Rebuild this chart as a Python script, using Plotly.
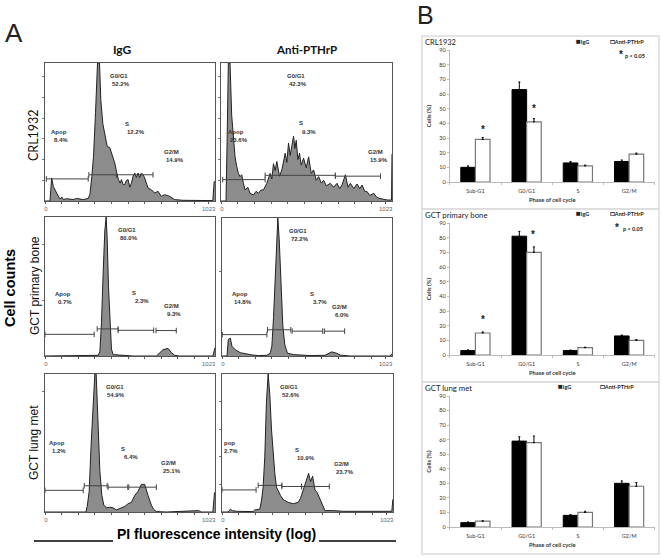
import plotly.graph_objects as go

W = 662
H = 558

# histogram data: channel and height (% of panel height)
crl_igg_ch = [0, 30, 40, 50, 70, 90, 102, 110, 130, 170, 190, 230, 260, 270, 282, 292, 304, 316, 328, 336, 348, 360, 374, 390, 406, 420, 432, 442, 452, 460, 470, 480, 490, 500, 510, 520, 530, 540, 550, 560, 570, 580, 590, 600, 620, 640, 660, 680, 700, 720, 750, 780, 830, 890, 970, 1010, 1018, 1023]
crl_igg_h = [0, 0, 16.7, 10.6, 5.8, 1.5, 2.9, 1, 1.7, 1, 1.9, 1, 1.9, 4.6, 17.9, 32.4, 64, 100, 100, 73, 56, 47, 39.6, 38.6, 32.6, 27.5, 20.3, 15.5, 13, 15.5, 12, 11.8, 15, 15.5, 10, 13, 18, 20.3, 17, 20.3, 17, 20.3, 19, 16.7, 9.4, 8.2, 5.8, 7, 3.4, 4.6, 3.4, 1, 0.5, 0.5, 0.5, 0.3, 14, 14]
pth_crl_ch = [0, 30, 36, 44, 54, 64, 72, 84, 94, 104, 114, 124, 134, 144, 160, 174, 194, 210, 224, 240, 254, 274, 294, 304, 314, 324, 334, 350, 364, 384, 394, 404, 414, 424, 434, 442, 450, 460, 470, 480, 494, 510, 524, 540, 554, 570, 584, 600, 614, 630, 654, 674, 694, 710, 724, 744, 760, 774, 794, 814, 830, 844, 860, 874, 890, 914, 930, 944, 994, 1020, 1023]
pth_crl_h = [0, 0, 40, 100, 100, 62, 50, 32, 25, 20, 17.7, 19, 12.8, 8, 10, 5.6, 4.4, 7, 5.6, 8, 8, 12.8, 20, 16, 27, 22, 28.6, 18, 22.5, 34.6, 28, 42, 33, 40, 47, 38, 44, 30, 34.6, 26, 31, 24, 32, 20, 22.5, 15, 17.7, 13, 15, 11, 12.8, 10, 12.8, 9, 11.6, 19, 10, 12.8, 9, 12.3, 9, 11.6, 7, 6.8, 4, 5.6, 3, 2, 0.7, 0.7, 34]
gct_igg_ch = [0, 320, 330, 340, 350, 360, 368, 374, 382, 390, 400, 410, 530, 670, 686, 710, 740, 760, 780, 810, 1010, 1022, 1023]
gct_igg_h = [0, 0.5, 3, 24, 60, 90, 100, 85, 50, 24, 5, 1, 0, 0, 2, 4.5, 5.5, 2.5, 0.5, 0, 0, 6, 6]
pth_gct_ch = [0, 30, 38, 50, 60, 80, 110, 140, 180, 220, 270, 290, 300, 310, 320, 330, 336, 344, 354, 366, 378, 394, 430, 470, 530, 620, 640, 660, 690, 714, 770, 1010, 1023]
pth_gct_h = [0, 0, 12, 13, 7, 4.5, 2.4, 1.5, 0.8, 0.3, 0.5, 2, 7, 28, 60, 90, 100, 85, 50, 22, 8, 2, 1, 0.8, 0.3, 0.5, 2, 3, 2, 0.6, 0, 0, 1.5]
lung_igg_ch = [0, 246, 254, 266, 278, 290, 300, 308, 318, 330, 342, 354, 370, 390, 410, 430, 450, 480, 500, 520, 540, 560, 580, 600, 620, 640, 654, 670, 730, 850, 924, 940, 1010, 1020, 1023]
lung_igg_h = [0, 0, 4, 15, 50, 80, 100, 100, 65, 30, 12, 5, 3, 3.5, 3, 1.5, 2.5, 4, 6, 7, 12, 15, 20, 20, 12, 5, 2, 0.3, 0, 0.3, 1, 0, 0, 14, 14]
pth_lung_ch = [0, 36, 50, 62, 86, 186, 196, 226, 236, 246, 256, 266, 276, 286, 296, 306, 316, 326, 336, 350, 366, 396, 426, 456, 470, 486, 502, 518, 530, 542, 556, 570, 590, 602, 616, 666, 726, 806, 926, 1016, 1022, 1023]
pth_lung_h = [0, 0, 2, 1, 0.5, 0.3, 1.5, 2, 8, 18, 40, 80, 100, 85, 60, 40, 28, 18, 15, 12, 9, 7, 6, 7, 10, 17, 22, 28, 22, 26, 16, 14, 8, 4, 1, 1, 0.5, 0.5, 0.3, 0.5, 9, 9]

# gate brackets: start channel, end channel, height
crl_igg_gates = [(8, 260, 16), (264, 430, 19), (430, 650, 19)]
pth_crl_gates = [(10, 264, 15.5), (264, 684, 18.6), (684, 954, 18)]
gct_igg_gates = [(0, 296, 15.6), (314, 440, 19.5), (440, 654, 18.5), (668, 790, 18.3)]
pth_gct_gates = [(2, 270, 15.5), (274, 414, 19), (422, 606, 18), (616, 738, 18)]
lung_igg_gates = [(0, 230, 15.7), (236, 374, 19), (380, 498, 18), (504, 670, 18)]
pth_lung_gates = [(0, 204, 16), (216, 358, 19.3), (358, 476, 18.5), (476, 642, 18.5)]

gate_names = ["Apop", "G0/G1", "S", "G2/M"]
crl_igg_pct = ["8.4%", "52.2%", "12.2%", "14.9%"]
pth_crl_pct = ["23.6%", "42.3%", "9.3%", "15.9%"]
gct_igg_pct = ["0.7%", "80.0%", "2.3%", "9.3%"]
pth_gct_pct = ["14.8%", "72.2%", "3.7%", "6.0%"]
lung_igg_pct = ["1.2%", "54.9%", "6.4%", "25.1%"]
pth_lung_pct = ["2.7%", "52.6%", "10.9%", "23.7%"]

# bar data
phases = ["Sub-G1", "G0/G1", "S", "G2/M"]
crl_igg = [10, 63, 13, 14]
crl_igg_err = [1, 5.2, 1, 1]
crl_anti = [29, 41, 11, 19]
crl_anti_err = [1.4, 2.2, 0.5, 0.7]
bone_igg = [3, 81, 3, 13]
bone_igg_err = [0.5, 3.3, 0.4, 0.6]
bone_anti = [15, 70, 5, 10]
bone_anti_err = [0.7, 3.7, 0.3, 0.5]
lung_igg = [3, 59, 8, 30]
lung_igg_err = [0.5, 3, 0.5, 1.7]
lung_anti = [4, 58, 10, 28]
lung_anti_err = [0.2, 4.5, 0.8, 2.5]

fig = go.Figure()
annots = []
shapes = []
axes = {}


def px(x):
    return x / W


def py(y):
    return 1 - y / H


def text(s, x, y, size, font="Liberation Sans", bold=False, color="#222", anchor="center", angle=0):
    if bold:
        s = "<b>" + s + "</b>"
    annots.append(dict(text=s, x=px(x), y=py(y), xref="paper", yref="paper", showarrow=False,
                       xanchor=anchor, yanchor="middle", textangle=angle, borderpad=0,
                       font=dict(family=font, size=size, color=color)))


def hist_panel(n, box, ch, h, gates, pcts, label_pos, yticks, names=gate_names):
    ax = "" if n == 1 else str(n)
    x0, y0, x1, y1 = box
    # the 1023 label sits inside the right corner, so its tick is placed a bit before the end
    axes["xaxis" + ax] = dict(domain=[px(x0), px(x1)], range=[0, 1023], anchor="y" + ax, automargin=False,
                              tickvals=[5, 100, 200, 300, 400, 500, 600, 700, 800, 900, 985],
                              ticktext=["0", "", "", "", "", "", "", "", "", "", "1023"],
                              ticks="outside", ticklen=2, tickcolor="#555", showgrid=False, zeroline=False,
                              showline=True, linecolor="#555", linewidth=1, mirror=True,
                              tickfont=dict(family="Liberation Sans", size=6, color="#666"))
    axes["yaxis" + ax] = dict(domain=[py(y1), py(y0)], range=[0, 100], anchor="x" + ax, automargin=False,
                              tickvals=yticks, showticklabels=False, ticks="outside", ticklen=2,
                              tickcolor="#777", showgrid=False, zeroline=False,
                              showline=True, linecolor="#555", linewidth=1, mirror=True)
    fig.add_trace(go.Scatter(x=ch, y=h, mode="lines", fill="tozeroy", fillcolor="#8c8c8c",
                             line=dict(color="#222", width=1), xaxis="x" + ax, yaxis="y" + ax,
                             showlegend=False, hoverinfo="skip"))
    gx = []
    gy = []
    for a, b, v in gates:
        gx += [a, b, None]
        gy += [v, v, None]
    fig.add_trace(go.Scatter(x=gx, y=gy, mode="lines+markers", line=dict(color="#444", width=1),
                             marker=dict(symbol="line-ns", size=4, line=dict(color="#444", width=1)),
                             xaxis="x" + ax, yaxis="y" + ax, showlegend=False, hoverinfo="skip",
                             cliponaxis=False))
    for name, pct, pos in zip(names, pcts, label_pos):
        text(name, pos[0], pos[1], 6, bold=True, color="#333", anchor="left")
        text(pct, pos[2], pos[3], 6, bold=True, color="#333", anchor="left")


hist_panel(1, (45, 63, 215, 201), crl_igg_ch, crl_igg_h, crl_igg_gates, crl_igg_pct,
           [(50, 132, 53, 140), (109, 76, 111, 84), (124, 124, 126, 132), (163, 152, 165, 160)],
           [15, 30, 45, 60, 75, 90])
hist_panel(2, (221, 63, 392, 201), pth_crl_ch, pth_crl_h, pth_crl_gates, pth_crl_pct,
           [(227, 132, 229, 140), (286, 76, 288, 84), (298, 123, 301, 132), (367, 152, 369, 160)],
           [15, 30, 45, 60, 75, 90])
hist_panel(3, (45, 217, 215, 356), gct_igg_ch, gct_igg_h, gct_igg_gates, gct_igg_pct,
           [(54, 294, 57, 302), (117, 230, 119, 238), (131, 293, 134, 301), (163, 306, 166, 314)],
           [40, 80])
hist_panel(4, (222, 218, 392, 356), pth_gct_ch, pth_gct_h, pth_gct_gates, pth_gct_pct,
           [(231, 294, 233, 302), (288, 231, 290, 239), (309, 294, 312, 302), (331, 307, 334, 315)],
           [61])
hist_panel(5, (45, 374, 215, 512), lung_igg_ch, lung_igg_h, lung_igg_gates, lung_igg_pct,
           [(48, 443, 51, 451), (105, 387, 106, 395), (120, 449, 123, 457), (160, 463, 162, 471)],
           [87])
hist_panel(6, (222, 374, 393, 512), pth_lung_ch, pth_lung_h, pth_lung_gates, pth_lung_pct,
           [(223, 443, 223, 451), (279, 387, 281, 395), (294, 450, 296, 458), (333, 464, 335, 472)],
           [20, 40, 60, 80], names=["pop", "G0/G1", "S", "G2/M"])


def bar_panel(n, y0, y1, igg, igg_err, anti, anti_err):
    ax = str(n)
    axes["xaxis" + ax] = dict(domain=[px(449.8), px(654.7)], anchor="y" + ax, type="category", automargin=False,
                              categoryorder="array", categoryarray=phases, tickson="boundaries",
                              ticks="outside", ticklen=2, tickcolor="#bbb", showgrid=False, zeroline=False,
                              showline=True, linecolor="#bbb", linewidth=1, ticklabelstandoff=3,
                              tickfont=dict(family="Lato", size=5.5, color="#333"),
                              title=dict(text="<b>Phase of cell cycle</b>", standoff=5,
                                         font=dict(family="Lato", size=5.8, color="#333")))
    axes["yaxis" + ax] = dict(domain=[py(y0), py(y1)], range=[0, 90], anchor="x" + ax, dtick=10, automargin=False,
                              ticks="outside", ticklen=2, tickcolor="#bbb", showgrid=False, zeroline=False,
                              showline=True, linecolor="#bbb", linewidth=1,
                              tickfont=dict(family="Lato", size=5.5, color="#333"),
                              title=dict(text="<b>Cells (%)</b>", standoff=7,
                                         font=dict(family="Lato", size=6, color="#333")))
    fig.add_trace(go.Bar(x=phases, y=igg, name="IgG", marker=dict(color="black", line=dict(color="black", width=1)),
                         error_y=dict(type="data", symmetric=False, array=igg_err, arrayminus=[0, 0, 0, 0],
                                      color="black", thickness=1, width=1),
                         xaxis="x" + ax, yaxis="y" + ax, showlegend=False))
    fig.add_trace(go.Bar(x=phases, y=anti, name="Anti-PTHrP",
                         marker=dict(color="white", line=dict(color="#777", width=1.2)),
                         error_y=dict(type="data", symmetric=False, array=anti_err, arrayminus=[0, 0, 0, 0],
                                      color="black", thickness=1, width=1),
                         xaxis="x" + ax, yaxis="y" + ax, showlegend=False))


bar_panel(7, 182, 50, crl_igg, crl_igg_err, crl_anti, crl_anti_err)
bar_panel(8, 355, 223, bone_igg, bone_igg_err, bone_anti, bone_anti_err)
bar_panel(9, 527, 396, lung_igg, lung_igg_err, lung_anti, lung_anti_err)


def star(ax, x, y):
    annots.append(dict(text="<b>*</b>", x=x, y=y, xref="x" + ax, yref="y" + ax, showarrow=False,
                       font=dict(family="Liberation Sans", size=10, color="#222")))


star("7", 0.14, 36)
star("7", 1.14, 50)
star("8", 0.15, 24)
star("8", 1.13, 82)

# big labels
text("A", 14, 33, 26)
text("B", 425, 14.5, 25)
text("IgG", 122, 49, 12, font="Lato", bold=True, color="#111")
text("Anti-PTHrP", 306, 49, 11.5, font="Lato", bold=True, color="#111")
text("CRL1932", 33, 135, 12.5, font="Lato", angle=-90, color="#111")
text("GCT primary bone", 35, 286, 12, angle=-90, color="#111")
text("GCT lung met", 34, 443, 12, angle=-90, color="#111")
text("Cell counts", 10, 288, 14.5, bold=True, angle=-90, color="#000")
text("PI fluorescence intensity (log)", 216, 534, 14, bold=True, color="#000")

for xa, xb in [(34, 113), (319, 396)]:
    shapes.append(dict(type="line", xref="paper", yref="paper", x0=px(xa), x1=px(xb), y0=py(541), y1=py(541),
                       line=dict(color="black", width=1.5)))

# panel B boxes and headings
for ya, yb in [(36, 209), (209, 382), (382, 554)]:
    shapes.append(dict(type="rect", xref="paper", yref="paper", x0=px(422), x1=px(659), y0=py(ya), y1=py(yb),
                       line=dict(color="#dcdcdc", width=1.5), layer="below"))

text("CRL1932", 424, 42, 7.5, font="Lato", color="#222", anchor="left")
text("GCT primary bone", 424, 215, 7.8, font="Lato", color="#222", anchor="left")
text("GCT lung met", 424, 388, 7.8, font="Lato", color="#222", anchor="left")

mark = "<span style='font-size:8px'>%s</span>"
for a, b, yy in [(575, 609, 41), (575, 609, 213), (557, 599, 386)]:
    text(mark % "■" + "IgG", a, yy, 5.5, font="Lato", bold=True, color="#222", anchor="left")
    text(mark % "□" + "Anti-PTHrP", b, yy, 5.5, font="Lato", bold=True, color="#222", anchor="left")

text("<b>*</b>", 621, 54, 10, color="#222")
text("p < 0.05", 624, 56, 5.5, font="Lato", bold=True, color="#222", anchor="left")
text("<b>*</b>", 617, 227, 10, color="#222")
text("p < 0.05", 622, 229, 5.5, font="Lato", bold=True, color="#222", anchor="left")

fig.update_layout(width=W, height=H, margin=dict(l=0, r=0, t=0, b=0, autoexpand=False), paper_bgcolor="white",
                  plot_bgcolor="white", barmode="group", bargap=0.43, bargroupgap=0,
                  annotations=annots, shapes=shapes, **axes)
fig.write_html("out.html", config={"displayModeBar": False},
               post_script="document.body.style.margin='0';document.body.style.overflow='hidden';")
